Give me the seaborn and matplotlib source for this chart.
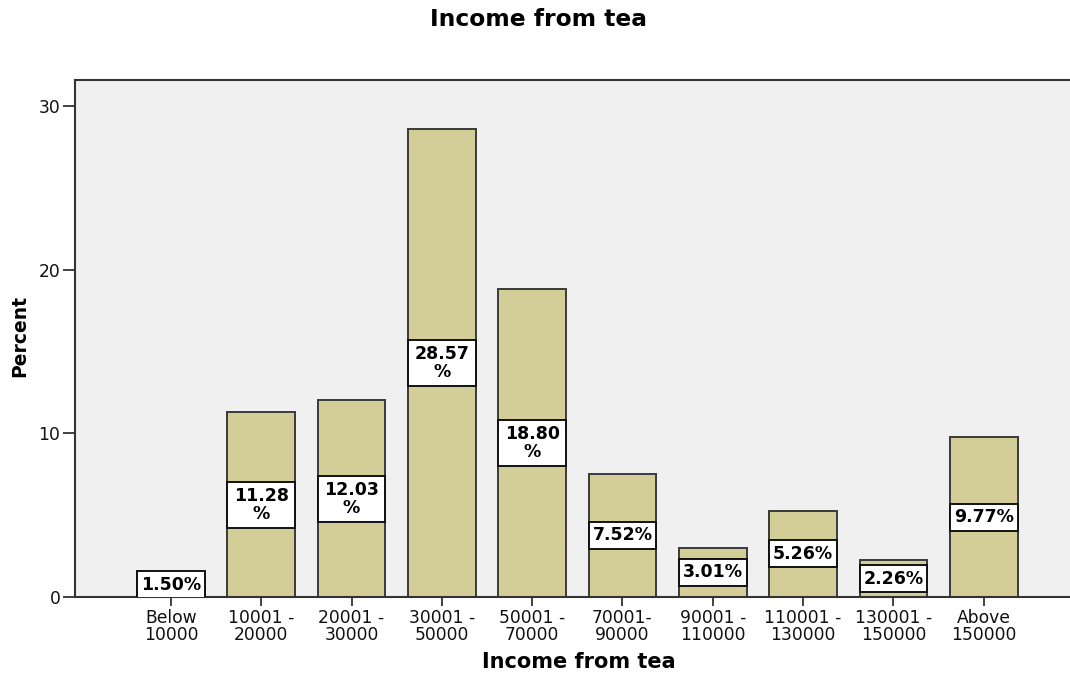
import matplotlib
matplotlib.use("Agg")
import matplotlib.pyplot as plt
from matplotlib.patches import Rectangle
import seaborn as sns
import pandas as pd

# Income bands and share of respondents (%)
categories = ["Below\n10000", "10001 -\n20000", "20001 -\n30000", "30001 -\n50000",
              "50001 -\n70000", "70001-\n90000", "90001 -\n110000", "110001 -\n130000",
              "130001 -\n150000", "Above\n150000"]
percent = [1.50, 11.28, 12.03, 28.57, 18.80, 7.52, 3.01, 5.26, 2.26, 9.77]

df = pd.DataFrame({"band": categories, "percent": percent})

sns.set_style("white")
plt.rcParams["font.family"] = ["DejaVu Sans"]

fig = plt.figure(figsize=(10.7, 6.75), dpi=100)
ax = fig.add_axes([75 / 1070, 78 / 675, 995 / 1070, 517 / 675])
ax.set_facecolor("#F0F0F0")

sns.barplot(data=df, x="band", y="percent", color="#D3CE97", saturation=1,
            width=0.75, edgecolor="#3A3A3A", linewidth=1.4, ax=ax, zorder=2)

ax.set_xlim(-1.063, 9.956)
ax.set_ylim(0, 31.59)
ax.set_yticks([0, 10, 20, 30])

# pixel -> data scale along y (517 px for the full y range)
px = 31.59 / 517.0

# value labels in white boxes spanning the bar width, centred at half height
for bar, v in zip(ax.patches, percent):
    txt = f"{v:.2f}%"
    if v >= 10:
        txt = f"{v:.2f}\n%"
        h = 46 * px
    else:
        h = 27 * px
    cx = bar.get_x() + bar.get_width() / 2
    cy = v / 2
    ax.add_patch(Rectangle((bar.get_x(), cy - h / 2), bar.get_width(), h,
                           facecolor="white", edgecolor="#111111", linewidth=1.4,
                           zorder=3))
    ax.text(cx, cy, txt, ha="center", va="center", fontsize=12.5,
            fontweight="bold", color="#000000", linespacing=1.0, zorder=4)

for side in ["left", "top", "bottom"]:
    ax.spines[side].set_visible(True)
    ax.spines[side].set_color("#333333")
    ax.spines[side].set_linewidth(1.5)
ax.spines["right"].set_visible(False)

ax.tick_params(axis="x", direction="out", length=6.5, width=1.3, color="#333333",
               pad=2, labelsize=12.3, labelcolor="#111111", bottom=True)
ax.tick_params(axis="y", direction="out", length=8.5, width=1.3, color="#333333",
               pad=2, labelsize=12.3, labelcolor="#111111", left=True)
for lab in ax.get_xticklabels():
    lab.set_linespacing(0.95)

ax.set_xlabel("")
ax.set_ylabel("")

fig.text(539 / 1070, 1 - 19 / 675, "Income from tea", ha="center", va="center",
         fontsize=16.8, fontweight="bold", color="#000000")
fig.text(579 / 1070, 1 - 662 / 675, "Income from tea", ha="center", va="center",
         fontsize=15, fontweight="bold", color="#000000")
fig.text(20 / 1070, 1 - 336 / 675, "Percent", ha="center", va="center",
         rotation=90, fontsize=13.5, fontweight="bold", color="#000000")

fig.savefig("out.png", dpi=100, facecolor="white")
